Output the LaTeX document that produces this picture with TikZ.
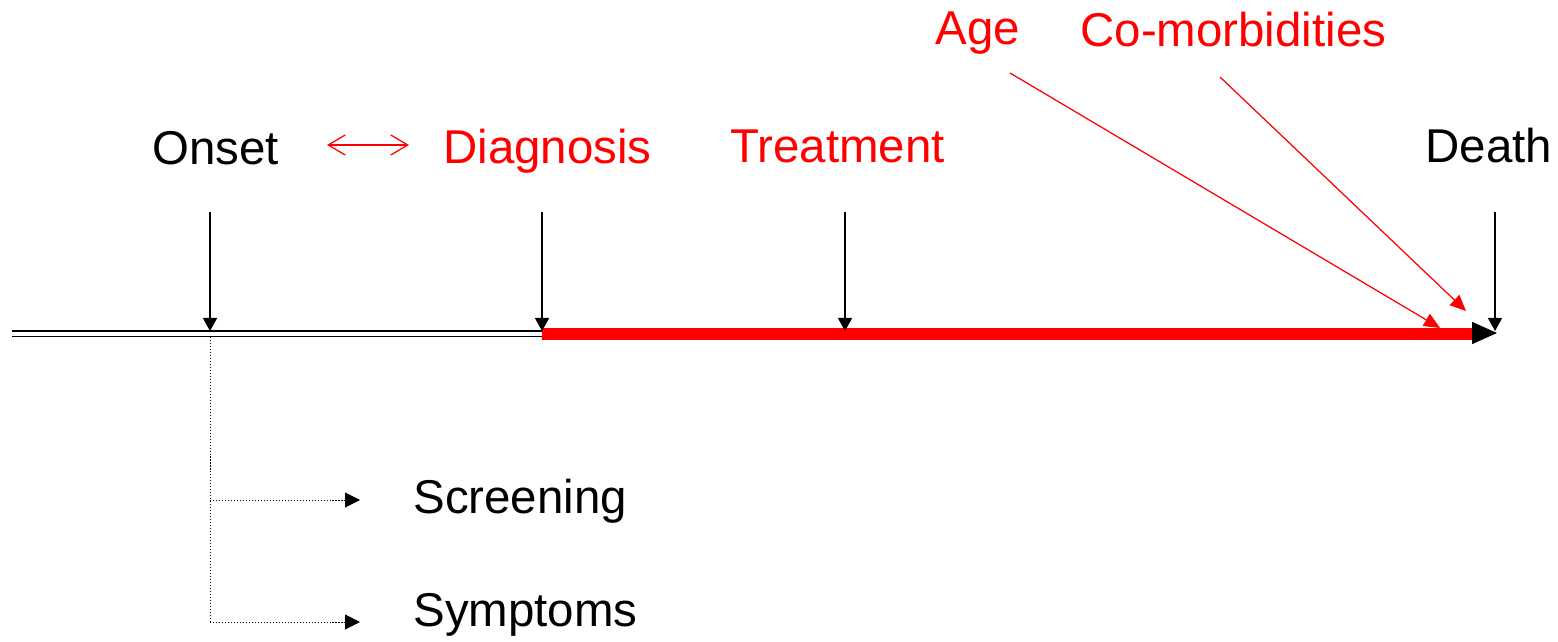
\documentclass[tikz,border=0pt]{standalone}
\usepackage{fontspec}
\setmainfont{Liberation Sans}
\usetikzlibrary{arrows.meta,calc}

\begin{document}
\begin{tikzpicture}[x=0.2mm,y=-0.2mm,>={Triangle[length=2.6mm,width=2.8mm]},
	lbl/.style={font=\fontsize{27}{31}\selectfont,inner sep=0pt,anchor=base west},
	event/.style={line width=0.3mm,->},
	cause/.style={red,line width=0.25mm,-{Triangle[length=3.2mm,width=2.8mm]}},
	dots/.style={line width=0.2mm,dash pattern=on 0.6pt off 1.1pt},
	route/.style={dots,-{Triangle[length=3mm,width=3mm]}}]
	
	\useasboundingbox (0,0) rectangle (1558,642);
	
	%----------------------------------------
	% Labels
	%----------------------------------------
	\node[lbl] (onset) at (152,165) {Onset};
	\node[lbl,red] (diag) at (443,164) {Diagnosis};
	\node[lbl,red] (treat) at (730,163) {Treatment};
	\node[lbl] (death) at (1425,163) {Death};
	\node[lbl,red] (age) at (935,45) {Age};
	\node[lbl,red] (comorb) at (1080,47) {Co-morbidities};
	\node[lbl] (screen) at (413,513) {Screening};
	\node[lbl] (sympt) at (413,626) {Symptoms};
	
	%----------------------------------------
	% Points on the time line
	%----------------------------------------
	\coordinate (T0) at (12,334);
	\coordinate (Tend) at (1476,334);
	\coordinate (Ton) at (210,331);
	\coordinate (Tdiag) at (542,331);
	\coordinate (Ttreat) at (845,331);
	\coordinate (Tdeath) at (1495,331);
	
	% time line
	\draw[line width=0.3mm,double,double distance=0.8mm] (T0) -- (Tend);
	\draw[red,line width=2.4mm] ($(Tdiag)+(0,3)$) -- (Tend);
	\draw[line width=0.3mm,-{Triangle[length=5mm,width=4.4mm]}] (1474,333) -- (1497,333);
	
	%----------------------------------------
	% Event markers
	%----------------------------------------
	\foreach \p in {on,diag,treat,death}
	\draw[event] (T\p) ++(0,-119) -- (T\p);
	
	% onset <-> diagnosis
	\coordinate (L1) at (327,145);
	\coordinate (L2) at (409,145);
	\draw[red,line width=0.25mm,{Straight Barb[length=3.4mm,width=4mm]}-{Straight Barb[length=3.4mm,width=4mm]}] (L1) -- (L2);
	
	%----------------------------------------
	% Factors at death
	%----------------------------------------
	\coordinate (A1) at (1010,73);
	\coordinate (A2) at (1440,328);
	\coordinate (C1) at (1220,77);
	\coordinate (C2) at (1466,311);
	\draw[cause] (A1) -- (A2);
	\draw[cause] (C1) -- (C2);
	
	%----------------------------------------
	% Routes to diagnosis
	%----------------------------------------
	\coordinate (S1) at (360,500);
	\coordinate (S2) at (360,622);
	\draw[dots] (210,337) -- (210,622);
	\draw[route] (210,500) -- (S1);
	\draw[route] (210,622) -- (S2);
	
\end{tikzpicture}
\end{document}
